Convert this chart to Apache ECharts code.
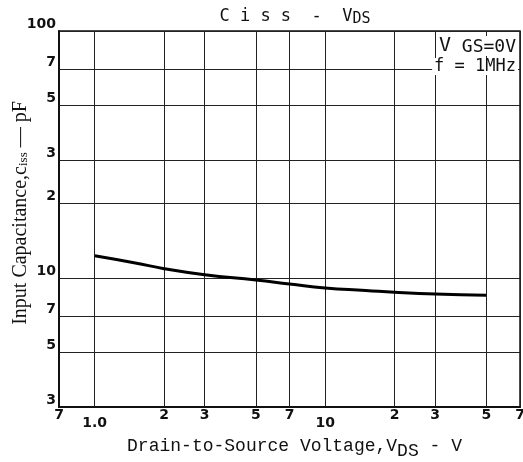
<!DOCTYPE html>
<html>
<head>
<meta charset="utf-8">
<script src="https://cdn.jsdelivr.net/npm/echarts@6/dist/echarts.min.js"></script>
<style>
  html,body{margin:0;padding:0;background:#fff;}
  #main{width:523px;height:462px;}
</style>
</head>
<body>
<div id="main"></div>
<script>
// Ciss vs VDS
var vds  = [1.0, 1.5, 2, 3, 5, 7, 10, 15, 20, 30, 50];
var ciss = [12.3, 11.5, 10.9, 10.3, 9.8, 9.45, 9.1, 8.9, 8.75, 8.6, 8.5];

var xTickValues = [0.7, 1, 2, 3, 5, 7, 10, 20, 30, 50, 70];
var xTickLabels = ['7', '1.0', '2', '3', '5', '7', '10', '2', '3', '5', '7'];
var yTickValues = [3, 5, 7, 10, 20, 30, 50, 70, 100];
var yTickLabels = ['3', '5', '7', '10', '2', '3', '5', '7', '100'];

var chart = echarts.init(document.getElementById('main'));

var lblFont = {fontFamily: 'DejaVu Sans', fontWeight: 'bold', fontSize: 14, color: '#111'};

chart.setOption({
  backgroundColor: '#fff',
  animation: false,
  title: {
    text: 'C i s s  -  V{s|DS}',
    left: 290, top: 2, textAlign: 'center',
    textStyle: {
      fontFamily: 'DejaVu Sans Mono', fontSize: 17, fontWeight: 'normal', color: '#111',
      rich: {s: {fontFamily: 'DejaVu Sans Mono', fontSize: 15, color: '#111', padding: [5, 0, 0, 0]}}
    }
  },
  grid: {left: 59, right: 3, top: 31, bottom: 55, outerBoundsMode: 'none', containLabel: false,
         show: true, borderColor: '#111', borderWidth: 1.5},
  xAxis: {
    type: 'log', logBase: 10, min: 0.7, max: 70,
    name: 'Drain-to-Source Voltage,V{sub|DS} - V',
    nameLocation: 'middle', nameGap: 26,
    nameTextStyle: {
      fontFamily: 'Liberation Mono', fontSize: 18, color: '#111', padding: [0, 0, 0, 10],
      rich: {sub: {fontFamily: 'Liberation Mono', fontSize: 18, color: '#111', padding: [9, 0, 0, 0]}}
    },
    axisLine: {show: true, onZero: false, lineStyle: {color: '#111', width: 2}},
    axisTick: {show: false, customValues: xTickValues},
    splitLine: {show: true, lineStyle: {color: '#222', width: 1}},
    axisLabel: Object.assign({
      customValues: xTickValues, margin: 1,
      formatter: function (v) {
        var i = xTickValues.indexOf(v);
        var t = i >= 0 ? xTickLabels[i] : '';
        return (v === 1 || v === 10) ? '{lo|' + t + '}' : t;
      },
      rich: {lo: {fontFamily: 'DejaVu Sans', fontWeight: 'bold', fontSize: 14, color: '#111', padding: [8, 0, 0, 0]}}
    }, lblFont)
  },
  yAxis: {
    type: 'log', logBase: 10, min: 3, max: 100,
    name: 'Input Capacitance,c{sub|iss} \u2014 pF',
    nameLocation: 'middle', nameGap: 28, nameRotate: 90, nameMoveOverlap: false,
    nameTextStyle: {
      fontFamily: 'Liberation Serif', fontSize: 20, color: '#111', padding: [0, 0, 0, 12],
      rich: {sub: {fontFamily: 'Liberation Serif', fontSize: 13, color: '#111', padding: [6, 0, 0, 0]}}
    },
    axisLine: {show: true, onZero: false, lineStyle: {color: '#111', width: 2}},
    axisTick: {show: false, customValues: yTickValues},
    splitLine: {show: true, lineStyle: {color: '#222', width: 1}},
    axisLabel: Object.assign({
      customValues: yTickValues, margin: 3, verticalAlign: 'bottom',
      formatter: function (v) {
        var i = yTickValues.indexOf(v);
        return i >= 0 ? yTickLabels[i] : '';
      }
    }, lblFont)
  },
  graphic: [
    {type: 'text', right: 5, top: 36, z: 100, style: {
      text: 'V{s| GS=0V}', fontFamily: 'DejaVu Sans Mono', fontSize: 20, fill: '#111',
      backgroundColor: '#fff', padding: [0, 2, 0, 2],
      rich: {s: {fontFamily: 'DejaVu Sans Mono', fontSize: 18, fill: '#111', padding: [2, 0, 0, 0]}}
    }},
    {type: 'text', right: 5, top: 58, z: 100, style: {
      text: 'f = 1MHz', fontFamily: 'DejaVu Sans Mono', fontSize: 17, fill: '#111',
      backgroundColor: '#fff', padding: [0, 2, 0, 2]
    }}
  ],
  series: [{
    type: 'line',
    data: vds.map(function (x, i) { return [x, ciss[i]]; }),
    smooth: true,
    showSymbol: false,
    lineStyle: {color: '#000', width: 3}
  }]
});
</script>
</body>
</html>
